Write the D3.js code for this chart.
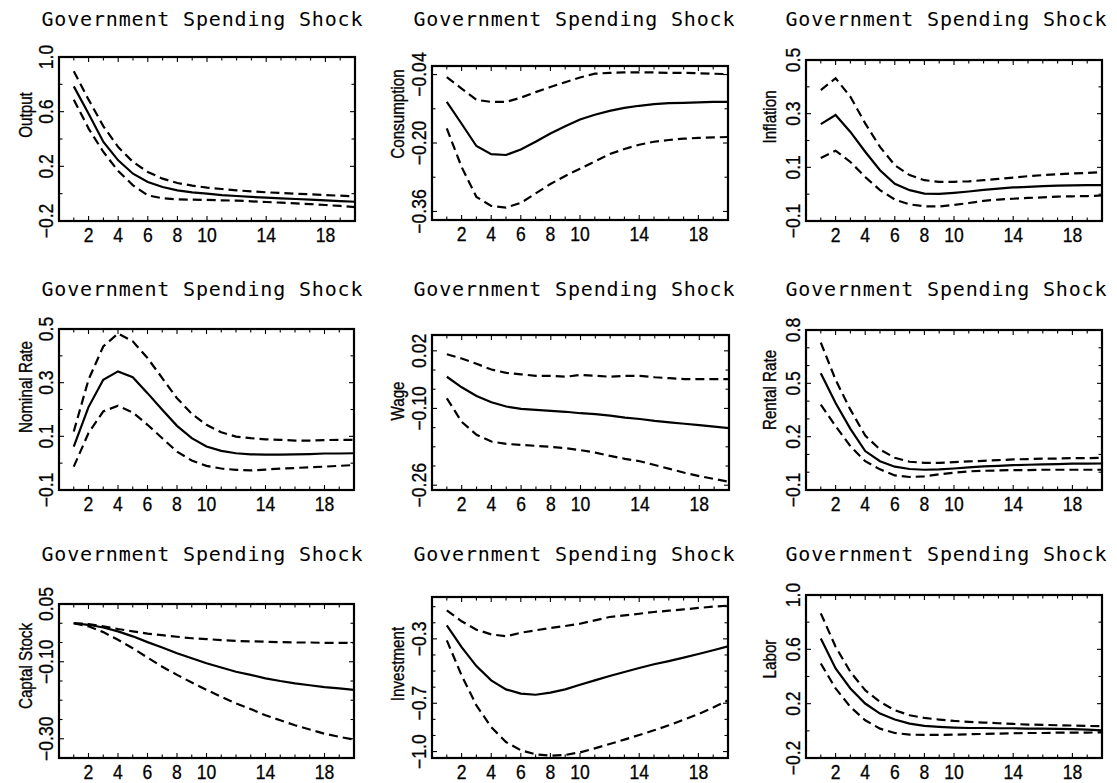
<!DOCTYPE html>
<html>
<head>
<meta charset="utf-8">
<script src="https://cdn.jsdelivr.net/npm/d3@7/dist/d3.min.js"></script>
<style>
  html, body { margin: 0; padding: 0; background: #fff; }
  svg { display: block; }
  .title { font-family: "DejaVu Sans Mono", monospace; font-size: 20px; fill: #000; }
  .ylab { font-family: "Liberation Sans", Arial, sans-serif; font-size: 19px; fill: #000; stroke: #000; stroke-width: 0.35px; }
  .tick { font-family: "Liberation Sans", Arial, sans-serif; font-size: 19.5px; fill: #000; stroke: #000; stroke-width: 0.3px; }
</style>
</head>
<body>
<svg id="chart" width="1117" height="783"></svg>
<script>
// Impulse responses to a government spending shock: median and error bands
const periods = [1, 2, 3, 4, 5, 6, 7, 8, 9, 10, 11, 12, 13, 14, 15, 16, 17, 18, 19, 20];
const xTickLabels = [2, 4, 6, 8, 10, 14, 18];
const shockTitle = "Government Spending Shock";

const outputMid = [0.785, 0.585, 0.378, 0.244, 0.146, 0.085, 0.049, 0.024, 0.010, 0.000, -0.010, -0.017, -0.024, -0.029, -0.034, -0.039, -0.044, -0.049, -0.054, -0.059];
const outputHi  = [0.895, 0.688, 0.493, 0.341, 0.232, 0.159, 0.110, 0.078, 0.059, 0.044, 0.034, 0.024, 0.017, 0.010, 0.005, 0.000, -0.005, -0.010, -0.015, -0.020];
const outputLo  = [0.688, 0.476, 0.305, 0.166, 0.061, -0.012, -0.034, -0.041, -0.044, -0.046, -0.049, -0.051, -0.056, -0.061, -0.066, -0.071, -0.076, -0.083, -0.090, -0.098];

const consMid = [-0.104, -0.155, -0.207, -0.226, -0.228, -0.215, -0.197, -0.178, -0.161, -0.145, -0.134, -0.125, -0.118, -0.113, -0.109, -0.107, -0.106, -0.105, -0.104, -0.104];
const consHi  = [-0.046, -0.073, -0.099, -0.104, -0.104, -0.094, -0.081, -0.069, -0.058, -0.047, -0.038, -0.036, -0.035, -0.035, -0.035, -0.036, -0.036, -0.037, -0.038, -0.039];
const consLo  = [-0.166, -0.256, -0.326, -0.347, -0.351, -0.340, -0.318, -0.296, -0.277, -0.260, -0.243, -0.226, -0.214, -0.204, -0.197, -0.193, -0.190, -0.188, -0.187, -0.186];

const inflMid = [0.261, 0.295, 0.232, 0.158, 0.089, 0.039, 0.015, 0.002, 0.001, 0.005, 0.010, 0.016, 0.021, 0.025, 0.027, 0.030, 0.032, 0.033, 0.034, 0.034];
const inflHi  = [0.388, 0.432, 0.363, 0.264, 0.176, 0.108, 0.071, 0.052, 0.046, 0.046, 0.048, 0.052, 0.057, 0.062, 0.067, 0.071, 0.074, 0.077, 0.079, 0.082];
const inflLo  = [0.135, 0.162, 0.120, 0.064, 0.015, -0.020, -0.038, -0.045, -0.046, -0.040, -0.033, -0.025, -0.020, -0.017, -0.014, -0.012, -0.009, -0.008, -0.007, -0.005];

const rateMid = [0.062, 0.209, 0.311, 0.342, 0.320, 0.261, 0.199, 0.139, 0.093, 0.062, 0.046, 0.037, 0.033, 0.032, 0.032, 0.033, 0.034, 0.036, 0.036, 0.037];
const rateHi  = [0.118, 0.311, 0.435, 0.483, 0.454, 0.392, 0.317, 0.242, 0.184, 0.143, 0.115, 0.099, 0.093, 0.089, 0.087, 0.084, 0.084, 0.086, 0.087, 0.087];
const rateLo  = [-0.013, 0.112, 0.193, 0.214, 0.189, 0.143, 0.093, 0.043, 0.010, -0.010, -0.020, -0.025, -0.027, -0.024, -0.020, -0.018, -0.015, -0.013, -0.010, -0.007];

const wageMid = [-0.034, -0.056, -0.074, -0.087, -0.096, -0.101, -0.103, -0.105, -0.107, -0.110, -0.112, -0.115, -0.119, -0.122, -0.126, -0.129, -0.132, -0.135, -0.138, -0.141];
const wageHi  = [0.013, 0.004, -0.007, -0.019, -0.026, -0.029, -0.032, -0.032, -0.034, -0.030, -0.032, -0.034, -0.032, -0.032, -0.035, -0.037, -0.039, -0.039, -0.039, -0.039];
const wageLo  = [-0.079, -0.128, -0.155, -0.169, -0.174, -0.176, -0.178, -0.180, -0.183, -0.187, -0.192, -0.199, -0.205, -0.210, -0.218, -0.226, -0.234, -0.241, -0.247, -0.253];

const rentMid = [0.557, 0.389, 0.244, 0.119, 0.062, 0.031, 0.018, 0.014, 0.016, 0.021, 0.027, 0.033, 0.036, 0.040, 0.042, 0.044, 0.046, 0.048, 0.048, 0.049];
const rentHi  = [0.729, 0.520, 0.352, 0.206, 0.128, 0.081, 0.059, 0.053, 0.053, 0.057, 0.061, 0.064, 0.068, 0.072, 0.074, 0.076, 0.077, 0.079, 0.079, 0.081];
const rentLo  = [0.380, 0.259, 0.146, 0.062, 0.016, -0.018, -0.027, -0.023, -0.012, -0.003, 0.005, 0.008, 0.010, 0.012, 0.012, 0.014, 0.014, 0.014, 0.014, 0.014];

const capMid = [0.000, -0.004, -0.011, -0.021, -0.034, -0.049, -0.063, -0.078, -0.091, -0.104, -0.115, -0.126, -0.134, -0.143, -0.150, -0.156, -0.161, -0.166, -0.169, -0.173];
const capHi  = [0.000, -0.002, -0.008, -0.015, -0.021, -0.027, -0.031, -0.035, -0.039, -0.041, -0.044, -0.046, -0.047, -0.048, -0.049, -0.050, -0.050, -0.051, -0.051, -0.051];
const capLo  = [0.000, -0.008, -0.023, -0.043, -0.065, -0.089, -0.113, -0.134, -0.154, -0.173, -0.191, -0.208, -0.223, -0.239, -0.252, -0.265, -0.276, -0.287, -0.295, -0.302];

const invMid = [-0.216, -0.351, -0.469, -0.558, -0.614, -0.640, -0.647, -0.634, -0.614, -0.585, -0.558, -0.531, -0.506, -0.481, -0.458, -0.438, -0.417, -0.394, -0.371, -0.346];
const invHi  = [-0.123, -0.191, -0.243, -0.272, -0.284, -0.262, -0.247, -0.233, -0.220, -0.206, -0.185, -0.164, -0.154, -0.144, -0.133, -0.125, -0.117, -0.108, -0.100, -0.094];
const invLo  = [-0.309, -0.527, -0.713, -0.848, -0.941, -0.992, -1.017, -1.026, -1.021, -1.005, -0.980, -0.953, -0.926, -0.897, -0.868, -0.837, -0.802, -0.767, -0.727, -0.682];

const laborMid = [0.680, 0.459, 0.312, 0.201, 0.127, 0.083, 0.053, 0.036, 0.029, 0.024, 0.021, 0.021, 0.019, 0.019, 0.016, 0.016, 0.014, 0.012, 0.009, 0.004];
const laborHi  = [0.865, 0.619, 0.434, 0.299, 0.213, 0.152, 0.115, 0.095, 0.083, 0.073, 0.066, 0.061, 0.056, 0.051, 0.046, 0.044, 0.041, 0.039, 0.036, 0.034];
const laborLo  = [0.496, 0.312, 0.176, 0.078, 0.016, -0.016, -0.028, -0.030, -0.030, -0.028, -0.025, -0.023, -0.020, -0.018, -0.016, -0.016, -0.013, -0.013, -0.013, -0.011];

// Variable names, value ranges, labelled ticks (value + text) and minor ticks
const varNames = ["Output", "Consumption", "Inflation", "Nominal Rate", "Wage", "Rental Rate", "Captal Stock", "Investment", "Labor"];
const yDomains = [[-0.2, 1.0], [-0.38, -0.02], [-0.1, 0.5], [-0.1, 0.5], [-0.27, 0.053], [-0.1, 0.8], [-0.35, 0.05], [-1.04, -0.04], [-0.2, 1.0]];
const yTickValues = [
  [-0.2, 0.2, 0.6, 1.0], [-0.36, -0.20, -0.04], [-0.1, 0.1, 0.3, 0.5], [-0.1, 0.1, 0.3, 0.5],
  [-0.26, -0.10, 0.02], [-0.1, 0.2, 0.5, 0.8], [-0.30, -0.10, 0.05], [-1.0, -0.7, -0.3], [-0.2, 0.2, 0.6, 1.0]
];
const yTickLabels = [
  ["−0.2", "0.2", "0.6", "1.0"], ["−0.36", "−0.20", "−0.04"], ["−0.1", "0.1", "0.3", "0.5"], ["−0.1", "0.1", "0.3", "0.5"],
  ["−0.26", "−0.10", "0.02"], ["−0.1", "0.2", "0.5", "0.8"], ["−0.30", "−0.10", "0.05"], ["−1.0", "−0.7", "−0.3"], ["−0.2", "0.2", "0.6", "1.0"]
];
const yMinorTicks = [
  [0.0, 0.4, 0.8], [-0.28, -0.12], [0.0, 0.2, 0.4], [0.0, 0.2, 0.4],
  [-0.22, -0.18, -0.14, -0.06, -0.02], [0.0, 0.1, 0.3, 0.4, 0.6, 0.7], [0.0, -0.05, -0.15, -0.20, -0.25], [-0.9, -0.8, -0.6, -0.5, -0.4, -0.2, -0.1], [0.0, 0.4, 0.8]
];
const seriesMid = [outputMid, consMid, inflMid, rateMid, wageMid, rentMid, capMid, invMid, laborMid];
const seriesHi  = [outputHi, consHi, inflHi, rateHi, wageHi, rentHi, capHi, invHi, laborHi];
const seriesLo  = [outputLo, consLo, inflLo, rateLo, wageLo, rentLo, capLo, invLo, laborLo];

// Frame boxes (left, right, top, bottom) and vertical centre of each axis title
const frames = [
  { l: 59,  r: 355,  t: 57,  b: 221, ly: 115 },
  { l: 432, r: 728,  t: 66,  b: 220, ly: 114 },
  { l: 806, r: 1102, t: 60,  b: 221, ly: 117 },
  { l: 59,  r: 354,  t: 329, b: 490, ly: 387 },
  { l: 432, r: 729,  t: 335, b: 490, ly: 401 },
  { l: 806, r: 1102, t: 330, b: 490, ly: 390 },
  { l: 59,  r: 354,  t: 604, b: 758, ly: 666 },
  { l: 432, r: 728,  t: 597, b: 758, ly: 664 },
  { l: 806, r: 1102, t: 595, b: 758, ly: 659 }
];
const colOrigins = [0, 372, 744];
const titleBaselines = [26, 296, 561];

// condensed look for the labels
const tickSquash = 0.9;
const labelSquash = 0.8;

const svg = d3.select("#chart");
const defs = svg.append("defs");

varNames.forEach((name, i) => {
  const f = frames[i];
  const col = i % 3, row = Math.floor(i / 3);
  const ox = colOrigins[col];

  const x = d3.scaleLinear().domain([0, 20]).range([f.l, f.r]);
  const y = d3.scaleLinear().domain(yDomains[i]).range([f.b, f.t]);

  // panel title
  svg.append("text").attr("class", "title")
    .attr("x", ox + 202).attr("y", titleBaselines[row])
    .attr("text-anchor", "middle")
    .attr("textLength", 321).attr("lengthAdjust", "spacing")
    .text(shockTitle);

  const g = svg.append("g");

  // clip for the curves
  defs.append("clipPath").attr("id", "clip" + i)
    .append("rect").attr("x", f.l).attr("y", f.t).attr("width", f.r - f.l).attr("height", f.b - f.t);

  const line = d3.line().x((d, k) => x(periods[k])).y(d => y(d)).curve(d3.curveLinear);
  const plot = g.append("g").attr("clip-path", `url(#clip${i})`);
  [seriesHi[i], seriesLo[i]].forEach(s => {
    plot.append("path").attr("d", line(s)).attr("fill", "none")
      .attr("stroke", "#000").attr("stroke-width", 2.2)
      .attr("stroke-dasharray", "9,5");
  });
  plot.append("path").attr("d", line(seriesMid[i])).attr("fill", "none")
    .attr("stroke", "#000").attr("stroke-width", 2.2);

  // inward ticks on all four sides
  const ticks = g.append("g").attr("stroke", "#000").attr("stroke-width", 1.1);
  periods.slice(0, 19).forEach(p => {
    const len = xTickLabels.includes(p) ? 5 : 3.5;
    ticks.append("line").attr("x1", x(p)).attr("x2", x(p)).attr("y1", f.b).attr("y2", f.b - len);
    ticks.append("line").attr("x1", x(p)).attr("x2", x(p)).attr("y1", f.t).attr("y2", f.t + len);
  });
  const allY = yTickValues[i].concat(yMinorTicks[i]);
  allY.forEach(v => {
    const yy = y(v);
    if (yy < f.t + 0.5 || yy > f.b - 0.5) return;
    const len = yTickValues[i].includes(v) ? 5 : 3.5;
    ticks.append("line").attr("x1", f.l).attr("x2", f.l + len).attr("y1", yy).attr("y2", yy);
    ticks.append("line").attr("x1", f.r).attr("x2", f.r - len).attr("y1", yy).attr("y2", yy);
  });

  // frame
  g.append("rect").attr("x", f.l).attr("y", f.t)
    .attr("width", f.r - f.l).attr("height", f.b - f.t)
    .attr("fill", "none").attr("stroke", "#000").attr("stroke-width", 2.2);

  // x tick labels
  xTickLabels.forEach(p => {
    g.append("text").attr("class", "tick")
      .attr("transform", `translate(${x(p)},${f.b + 21}) scale(${tickSquash},1)`)
      .attr("text-anchor", "middle").text(p);
  });

  // rotated y tick labels
  yTickValues[i].forEach((v, k) => {
    const tx = f.l - 6, ty = y(v);
    g.append("text").attr("class", "tick")
      .attr("transform", `translate(${tx},${ty}) rotate(-90) scale(${tickSquash},1)`)
      .attr("text-anchor", "middle").text(yTickLabels[i][k]);
  });

  // rotated axis title
  svg.append("text").attr("class", "ylab")
    .attr("transform", `translate(${ox + 32},${f.ly}) rotate(-90) scale(${labelSquash},1)`)
    .attr("text-anchor", "middle").text(name);
});
</script>
</body>
</html>
